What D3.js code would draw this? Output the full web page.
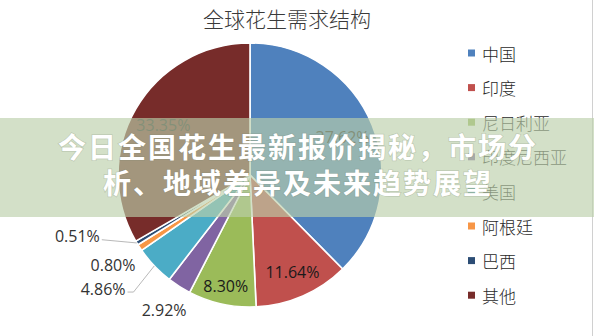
<!DOCTYPE html>
<html>
<head>
<meta charset="utf-8">
<script src="https://cdn.jsdelivr.net/npm/d3@7"></script>
<style>
  html, body { margin: 0; padding: 0; background: #fff; }
  svg { display: block; }
</style>
</head>
<body>
<svg id="chart" width="594" height="336"></svg>
<script>
// Global peanut demand structure, share by country (%)
const countries = ["中国", "印度", "尼日利亚", "印度尼西亚", "美国", "阿根廷", "巴西", "其他"];
const shares = [37.62, 11.64, 8.30, 2.92, 4.86, 0.80, 0.51, 33.35];
const sliceColors = ["#4F81BD", "#C0504D", "#9BBB59", "#8064A2", "#4BACC6", "#F79646", "#2C4D75", "#772C2A"];
const chartTitle = "全球花生需求结构";
const bannerLines = ["今日全国花生最新报价揭秘，市场分", "析、地域差异及未来趋势展望"];

const W = 594, H = 336;
const svg = d3.select("#chart");

const cx = 250, cy = 175, R = 132;

// Label placement per slice: radius from centre, angle nudge (deg), leader line
const labelPlacement = {
  "中国":      { r: 100 },
  "印度":      { r: 106 },
  "尼日利亚":  { r: 114 },
  "印度尼西亚": { r: 160 },
  "美国":      { r: 186, da: 5.7, leader: "elbow" },
  "阿根廷":    { r: 164 },
  "巴西":      { r: 183, da: 11.6, leader: "straight" },
  "其他":      { r: 100 }
};

const data = countries.map((c, i) => ({ name: c, value: shares[i], color: sliceColors[i] }));

const pie = d3.pie().sort(null).value(d => d.value);
const arcs = pie(data);
const arc = d3.arc().innerRadius(0).outerRadius(R);

const g = svg.append("g").attr("transform", `translate(${cx},${cy})`);

g.selectAll("path.slice")
  .data(arcs)
  .enter().append("path")
  .attr("class", "slice")
  .attr("d", arc)
  .attr("fill", d => d.data.color)
  .attr("stroke", "#fff")
  .attr("stroke-width", 1.6)
  .attr("stroke-linejoin", "round");

function polar(r, a) { return [r * Math.sin(a), -r * Math.cos(a)]; }

const fmt = v => v.toFixed(2) + "%";
const labelFont = "'Open Sans', 'Liberation Sans', sans-serif";

arcs.forEach(d => {
  const p = labelPlacement[d.data.name];
  const mid = (d.startAngle + d.endAngle) / 2;
  const a = mid + (p.da || 0) * Math.PI / 180;
  const [lx, ly] = polar(p.r, a);
  const t = g.append("text")
    .attr("x", lx).attr("y", ly)
    .attr("text-anchor", "middle")
    .attr("dominant-baseline", "central")
    .attr("font-family", labelFont)
    .attr("font-size", 16)
    .attr("fill", p.r < R ? "#1a1a1a" : "#333")
    .text(fmt(d.data.value));
  if (p.leader) {
    const w = t.node().getComputedTextLength();
    const [ex, ey] = polar(R, mid);
    const endX = lx + w / 2 + 2;
    const pts = p.leader === "elbow"
      ? [[ex, ey], [endX + 6, ly + 3], [endX, ly + 3]]
      : [[ex, ey], [endX, ly + 4]];
    g.append("path")
      .attr("d", d3.line()(pts))
      .attr("fill", "none")
      .attr("stroke", "#a6a6a6")
      .attr("stroke-width", 0.8);
  }
});

// Chart title
svg.append("text")
  .attr("x", 287).attr("y", 27)
  .attr("text-anchor", "middle")
  .attr("font-family", "'Noto Sans CJK SC', sans-serif")
  .attr("font-weight", 300)
  .attr("font-size", 21)
  .attr("fill", "#3a3a3a")
  .text(chartTitle);

// Legend
const legend = svg.append("g").attr("transform", "translate(468,53)");
const rowStep = 34.6;
const rows = legend.selectAll("g.row")
  .data(data)
  .enter().append("g")
  .attr("class", "row")
  .attr("transform", (d, i) => `translate(0,${i * rowStep})`);
rows.append("rect")
  .attr("x", 0).attr("y", -3.5)
  .attr("width", 7).attr("height", 7)
  .attr("fill", d => d.color);
rows.append("text")
  .attr("x", 14).attr("y", 0)
  .attr("dominant-baseline", "central")
  .attr("font-family", "'Noto Sans CJK SC', sans-serif")
  .attr("font-weight", 300)
  .attr("font-size", 17)
  .attr("fill", "#2a2a2a")
  .text(d => d.name);

// Right frame edge
svg.append("line")
  .attr("x1", 592.5).attr("x2", 592.5)
  .attr("y1", 0).attr("y2", H)
  .attr("stroke", "#d0d0d0")
  .attr("stroke-width", 1);

// Headline banner across the middle
svg.append("rect")
  .attr("x", 0).attr("y", 118)
  .attr("width", W).attr("height", 99)
  .attr("fill", "rgba(188,208,171,0.65)");

const banner = svg.append("g")
  .attr("font-family", "'Noto Sans CJK SC', sans-serif")
  .attr("font-weight", 700)
  .attr("font-size", 28)
  .attr("letter-spacing", 2)
  .attr("fill", "#fff")
  .attr("text-anchor", "middle");
banner.selectAll("text")
  .data(bannerLines)
  .enter().append("text")
  .attr("x", 298)
  .attr("y", (d, i) => 158 + i * 36)
  .style("paint-order", "stroke")
  .attr("stroke", "rgba(120,130,110,0.25)")
  .attr("stroke-width", 1.5)
  .text(d => d);
</script>
</body>
</html>
